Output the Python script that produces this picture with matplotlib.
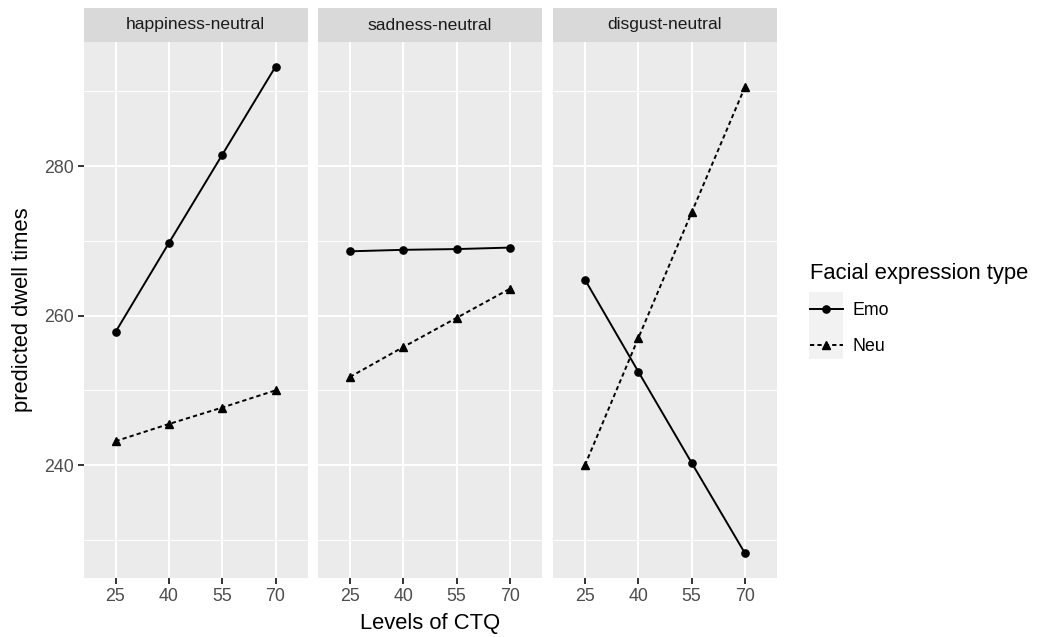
import matplotlib.pyplot as plt
from matplotlib.lines import Line2D
from matplotlib.patches import Rectangle

plt.rcParams['font.family'] = ['Liberation Sans', 'DejaVu Sans']

# data
ctq_levels = ['25', '40', '55', '70']
panels = ['happiness-neutral', 'sadness-neutral', 'disgust-neutral']
emo = {
    'happiness-neutral': [257.8, 269.7, 281.5, 293.3],
    'sadness-neutral': [268.6, 268.8, 268.9, 269.1],
    'disgust-neutral': [264.8, 252.5, 240.3, 228.2],
}
neu = {
    'happiness-neutral': [243.2, 245.5, 247.7, 250.0],
    'sadness-neutral': [251.8, 255.8, 259.7, 263.6],
    'disgust-neutral': [240.0, 257.0, 273.8, 290.6],
}
y_ticks = [240, 260, 280]
y_minor = [230, 250, 270, 290]

W, H = 1038, 637
fig = plt.figure(figsize=(W / 100, H / 100), dpi=100)

panel_left = [83.5, 318, 553]
panel_w = 224
panel_top, panel_bot = 42, 578
strip_top = 8

dash = (2.2, 1.6)
for i, name in enumerate(panels):
    ax = fig.add_axes([panel_left[i] / W, 1 - panel_bot / H, panel_w / W,
                       (panel_bot - panel_top) / H])
    ax.set_facecolor('#EBEBEB')
    for s in ax.spines.values():
        s.set_visible(False)
    x = range(len(ctq_levels))
    ax.plot(x, emo[name], color='black', lw=1.4, marker='o', ms=5.2, zorder=3)
    ax.plot(x, neu[name], color='black', lw=1.4, ls=(0, dash), marker='^',
            ms=6.2, zorder=3)
    ax.set_xlim(-0.6, 3.6)
    ax.set_ylim(224.9, 296.6)
    ax.set_xticks(list(x))
    ax.set_xticklabels(ctq_levels)
    ax.set_yticks(y_ticks)
    ax.set_yticks(y_minor, minor=True)
    ax.grid(True, which='major', color='white', lw=1.4)
    ax.grid(True, which='minor', axis='y', color='white', lw=0.7)
    ax.set_axisbelow(True)
    ax.tick_params(which='major', length=4, width=1.4, color='#333333',
                   labelsize=12.8, labelcolor='#4D4D4D', pad=3)
    ax.tick_params(which='minor', length=0)
    if i > 0:
        ax.tick_params(axis='y', left=False, labelleft=False)
    # facet strip
    sax = fig.add_axes([panel_left[i] / W, 1 - panel_top / H, panel_w / W,
                        (panel_top - strip_top) / H])
    sax.set_facecolor('#D9D9D9')
    sax.set_xticks([])
    sax.set_yticks([])
    for s in sax.spines.values():
        s.set_visible(False)
    sax.text(0.5, 0.5, name, ha='center', va='center', fontsize=12.6,
             color='#1A1A1A')

fig.text((panel_left[1] + panel_w / 2) / W, 1 - 629 / H, 'Levels of CTQ',
         ha='center', va='baseline', fontsize=15.8)
fig.text(23 / W, 1 - 310 / H, 'predicted dwell times', rotation=90,
         ha='center', va='center', fontsize=15.8)

# legend
fig.patches.append(Rectangle((809 / W, 1 - 359 / H), 34 / W, 67 / H,
                             transform=fig.transFigure, facecolor='#F2F2F2',
                             edgecolor='none', zorder=0))
handles = [
    Line2D([], [], color='black', lw=1.4, marker='o', ms=5.2),
    Line2D([], [], color='black', lw=1.4, ls=(0, dash), marker='^', ms=6.2),
]
leg = fig.legend(handles, ['Emo', 'Neu'], title='Facial expression type',
                 loc='upper left', bbox_to_anchor=(806 / W, 1 - 259 / H),
                 frameon=False, fontsize=12.8, title_fontsize=15.8,
                 handlelength=1.9, handletextpad=0.5, labelspacing=1.05,
                 borderpad=0.2, borderaxespad=0, alignment='left')

fig.savefig('out.png', dpi=100)
